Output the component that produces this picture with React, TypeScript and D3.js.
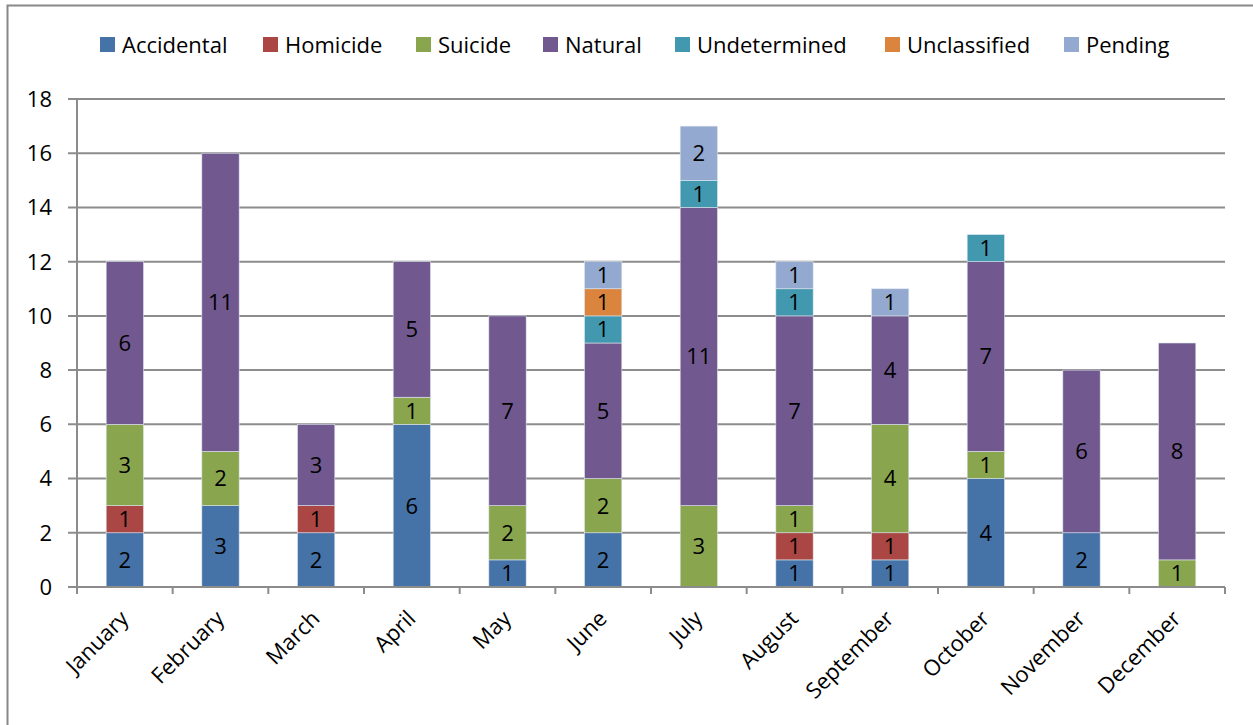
import React from "react";
import * as d3 from "d3";

const months = ["January", "February", "March", "April", "May", "June", "July", "August", "September", "October", "November", "December"];
const seriesNames = ["Accidental", "Homicide", "Suicide", "Natural", "Undetermined", "Unclassified", "Pending"];
const seriesColors = ["#4572A7", "#AA4643", "#89A54E", "#71588F", "#4198AF", "#DB843D", "#93A9CF"];

const accidental = [2, 3, 2, 6, 1, 2, 0, 1, 1, 4, 2, 0];
const homicide = [1, 0, 1, 0, 0, 0, 0, 1, 1, 0, 0, 0];
const suicide = [3, 2, 0, 1, 2, 2, 3, 1, 4, 1, 0, 1];
const natural = [6, 11, 3, 5, 7, 5, 11, 7, 4, 7, 6, 8];
const undetermined = [0, 0, 0, 0, 0, 1, 1, 1, 0, 1, 0, 0];
const unclassified = [0, 0, 0, 0, 0, 1, 0, 0, 0, 0, 0, 0];
const pending = [0, 0, 0, 0, 0, 1, 2, 1, 1, 0, 0, 0];

const yTicks = [0, 2, 4, 6, 8, 10, 12, 14, 16, 18];

const W = 1253;
const H = 725;
const FONT = "'Open Sans', Lato, sans-serif";
const FS = 22;

export default function App() {
  const seriesValues = [accidental, homicide, suicide, natural, undetermined, unclassified, pending];
  const rows = months.map((m, i) => {
    const r: Record<string, any> = { month: m };
    seriesNames.forEach((s, k) => (r[s] = seriesValues[k][i]));
    return r;
  });
  const stacked = d3.stack<any>().keys(seriesNames)(rows);

  const left = 77;
  const right = 1225;
  const top = 99;
  const bottom = 587;

  const x = d3.scaleBand<string>().domain(months).range([left, right]).paddingInner(0).paddingOuter(0);
  const y = d3.scaleLinear().domain([0, 18]).range([bottom, top]);
  const barW = x.step() * 0.39;

  const legendX = [100, 263, 416, 543, 675, 885, 1064];

  return (
    <svg width={W} height={H} style={{ position: "absolute", left: 0, top: 0, display: "block" }}>
      <rect x={0} y={0} width={W} height={H} fill="#fff" />
      <rect x={7.5} y={5.5} width={W} height={H} fill="none" stroke="#888" strokeWidth={2} />

      {/* gridlines and value labels */}
      {yTicks.map((t) => (
        <g key={t}>
          <line x1={left - 9} x2={right} y1={y(t)} y2={y(t)} stroke="#8c8c8c" strokeWidth={2} />
          <text x={52} y={y(t)} dy="0.36em" textAnchor="end" fontFamily={FONT} fontSize={FS} fill="#000">
            {t}
          </text>
        </g>
      ))}

      {/* stacked bars */}
      {stacked.map((layer, k) => (
        <g key={layer.key}>
          {layer.map((d, i) => {
            const v = d[1] - d[0];
            if (v <= 0) return null;
            const cx = (x(months[i]) as number) + x.step() / 2;
            const y0 = y(d[0]);
            const y1 = y(d[1]);
            return (
              <g key={i}>
                <rect x={cx - barW / 2} y={y1} width={barW} height={y0 - y1} fill={seriesColors[k]} stroke="#dfe6f0" strokeWidth={0.6} />
                <text x={cx} y={(y0 + y1) / 2} dy="0.36em" textAnchor="middle" fontFamily={FONT} fontSize={FS} fill="#000">
                  {v}
                </text>
              </g>
            );
          })}
        </g>
      ))}

      {/* axes */}
      <line x1={left} x2={left} y1={top} y2={bottom + 7} stroke="#8c8c8c" strokeWidth={2} />
      <line x1={left} x2={right} y1={bottom} y2={bottom} stroke="#8c8c8c" strokeWidth={2} />
      {months.map((m) => (
        <line key={m} x1={(x(m) as number) + x.step()} x2={(x(m) as number) + x.step()} y1={bottom} y2={bottom + 7} stroke="#8c8c8c" strokeWidth={2} />
      ))}
      {months.map((m) => {
        const cx = (x(m) as number) + x.step() / 2 + 5;
        const ty = 620;
        return (
          <text key={m} x={cx} y={ty} textAnchor="end" transform={`rotate(-45 ${cx} ${ty})`} fontFamily={FONT} fontSize={FS} fill="#000">
            {m}
          </text>
        );
      })}

      {/* legend */}
      {seriesNames.map((s, k) => (
        <g key={s}>
          <rect x={legendX[k]} y={37} width={15} height={15} fill={seriesColors[k]} />
          <text x={legendX[k] + 22} y={53} fontFamily={FONT} fontSize={FS} fill="#000">
            {s}
          </text>
        </g>
      ))}
    </svg>
  );
}
